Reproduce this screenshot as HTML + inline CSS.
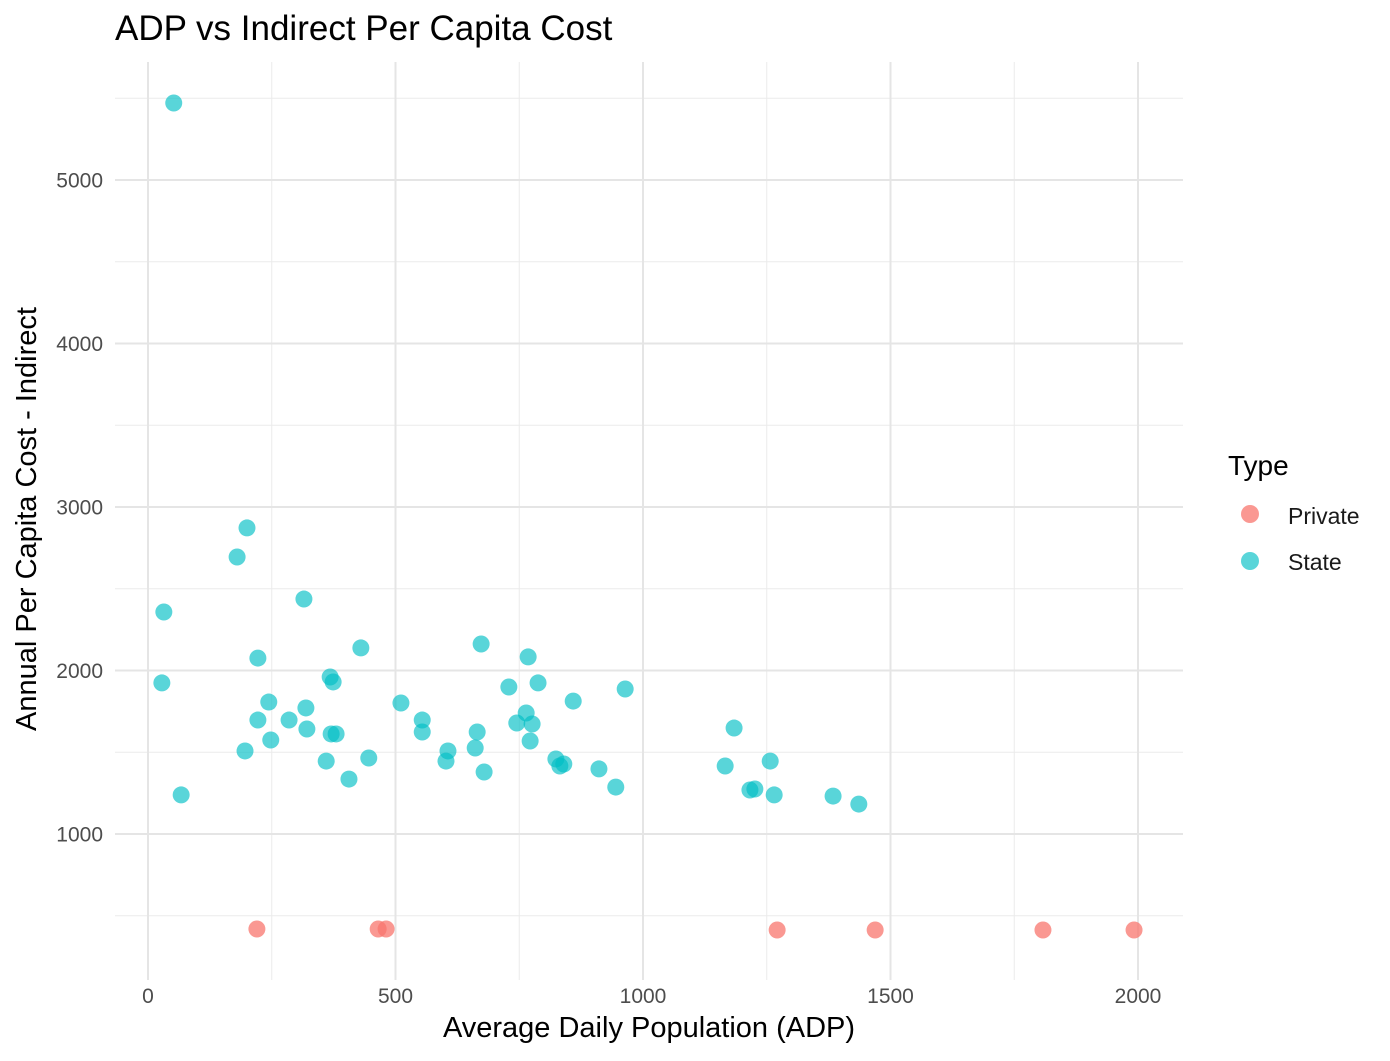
<!DOCTYPE html>
<html><head><meta charset="utf-8"><style>
body{margin:0;background:#fff;font-family:"Liberation Sans",Arial,sans-serif}
svg text{font-family:"Liberation Sans",Arial,sans-serif}
</style></head><body>
<svg id="chart" width="1390" height="1056" xmlns="http://www.w3.org/2000/svg">
<text x="115" y="40" font-size="35" fill="#000">ADP vs Indirect Per Capita Cost</text>
<g id="grid"></g>
<g id="ticks"></g>
<g id="pts"></g>
<text x="649" y="1037" font-size="29" text-anchor="middle" fill="#000">Average Daily Population (ADP)</text>
<text transform="translate(36,519) rotate(-90)" font-size="29" text-anchor="middle" fill="#000">Annual Per Capita Cost - Indirect</text>
<g>
<text x="1228" y="475" font-size="28" fill="#000">Type</text>
<g><circle cx="1250" cy="514" r="9" fill="#F8766D" fill-opacity="0.75"/><text x="1288" y="524" font-size="23" fill="#1a1a1a">Private</text></g>
<g><circle cx="1250" cy="561" r="9" fill="#00BFC4" fill-opacity="0.65"/><text x="1288" y="570" font-size="23" fill="#1a1a1a">State</text></g>
</g>
</svg>
<script>
const stateX=[52,200,180,32,28,67,315,222,244,222,285,319,321,248,196,430,368,374,370,380,360,446,406,511,554,554,606,602,661,665,679,673,729,768,788,745,764,776,772,859,824,832,840,911,945,964,1166,1184,1257,1216,1226,1265,1384,1436];
const stateY=[5471,2872,2694,2358,1924,1239,2437,2076,1807,1697,1697,1771,1642,1575,1508,2138,1960,1930,1612,1612,1446,1465,1336,1801,1697,1624,1508,1446,1526,1624,1379,2162,1899,2083,1924,1679,1740,1673,1569,1813,1459,1416,1428,1398,1287,1887,1416,1648,1446,1269,1275,1239,1232,1183];
const privX=[220,465,481,1271,1469,1808,1992];
const privY=[419,419,419,413,413,413,413];
const xTicks=[0,500,1000,1500,2000];
const yTicks=[1000,2000,3000,4000,5000];
const xMinor=[250,750,1250,1750];
const yMinor=[500,1500,2500,3500,4500,5500];
const L=115,R=1183,T=62,B=980;
const sx=v=>148+v*0.495;
const sy=v=>834-(v-1000)*0.1635;
const NS="http://www.w3.org/2000/svg";
function mk(t,a,p){const e=document.createElementNS(NS,t);for(const k in a)e.setAttribute(k,a[k]);p.appendChild(e);return e;}
const g=document.getElementById('grid'),tk=document.getElementById('ticks'),pg=document.getElementById('pts');
xMinor.forEach(v=>{const l=mk('line',{x1:sx(v),x2:sx(v),y1:T,y2:B,stroke:'#ebebeb','stroke-width':1},g);

});
yMinor.forEach(v=>{const l=mk('line',{x1:L,x2:R,y1:sy(v),y2:sy(v),stroke:'#ebebeb','stroke-width':1},g);

});
xTicks.forEach(v=>{const l=mk('line',{x1:sx(v),x2:sx(v),y1:T,y2:B,stroke:'#e5e5e5','stroke-width':2},g);


const t=mk('text',{x:sx(v),y:1003,'font-size':21,'text-anchor':'middle',fill:'#4d4d4d'},tk);t.textContent=v;

});
yTicks.forEach(v=>{const l=mk('line',{x1:L,x2:R,y1:sy(v),y2:sy(v),stroke:'#e5e5e5','stroke-width':2},g);


const t=mk('text',{x:103,y:sy(v)+7.5,'font-size':21,'text-anchor':'end',fill:'#4d4d4d'},tk);t.textContent=v;

});
privX.forEach((v,i)=>{const c=mk('circle',{cx:sx(v),cy:sy(privY[i]),r:8.5,fill:'#F8766D','fill-opacity':0.75},pg);

});
stateX.forEach((v,i)=>{const c=mk('circle',{cx:sx(v),cy:sy(stateY[i]),r:8.5,fill:'#00BFC4','fill-opacity':0.65},pg);

});
</script>
</body></html>
